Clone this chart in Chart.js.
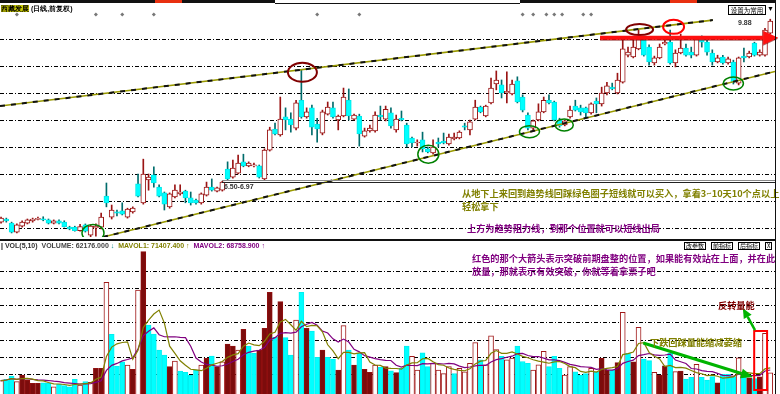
<!DOCTYPE html>
<html><head><meta charset="utf-8">
<script src="https://cdn.jsdelivr.net/npm/chart.js@4.4.1/dist/chart.umd.min.js"></script>
<style>
html,body{margin:0;padding:0;background:#fff;}
#wrap{position:relative;width:780px;height:394px;overflow:hidden;background:#fff;}
.cv{position:absolute;left:0;}
.t{position:absolute;white-space:nowrap;font-family:"Noto Sans CJK SC",sans-serif;font-weight:bold;font-size:9.2px;line-height:1;}
.s{position:absolute;white-space:nowrap;font-family:"Liberation Sans",Arial,sans-serif;font-weight:bold;font-size:7px;line-height:1;}
.btn{position:absolute;top:242px;height:6px;border:1px solid #000;background:#fff;font-family:"Noto Sans CJK SC",sans-serif;font-size:6px;line-height:6px;padding:0 1px;white-space:nowrap;}
</style></head><body>
<div id="wrap">
  <canvas id="pc" class="cv" width="780" height="237" style="top:0"></canvas>
  <canvas id="vc" class="cv" width="780" height="144" style="top:250px"></canvas>

  <!-- top strip -->
  <div style="position:absolute;left:0;top:0;width:275px;height:3px;background:#111"></div>
  <div style="position:absolute;left:155px;top:0;width:27px;height:3px;background:#e83010"></div>
  <div style="position:absolute;left:275px;top:3px;width:245px;height:1px;background:#111"></div>
  <div style="position:absolute;left:520px;top:0;width:256px;height:3px;background:#111"></div>
  <div style="position:absolute;left:670px;top:0;width:27px;height:3px;background:#e83010"></div>
  <div class="s" style="left:1px;top:5px;color:#000"><span style="background:#c8c800">西藏发展</span> (日线,前复权)</div>
  <div style="position:absolute;left:728px;top:5px;width:36px;height:8px;border:1px solid #000;background:#fff;font-family:'Noto Sans CJK SC';font-size:6.5px;line-height:8px;text-align:center;white-space:nowrap">设置为常用</div>
  <div class="s" style="left:767px;top:5px;color:#000">▼</div>

  <!-- price labels -->
  <div class="s" style="left:224px;top:183px;color:#333">6.50-6.97</div>
  <div class="s" style="left:738px;top:19px;color:#333">9.88</div>

  <!-- text box annotations -->
  <div class="t" style="left:462px;top:188.5px;color:#808000">从地下上来回到趋势线回踩绿色圈子短线就可以买入，拿着3~10天10个点以上</div>
  <div class="t" style="left:462px;top:202px;color:#808000">轻松拿下</div>
  <div class="t" style="left:467px;top:223.5px;color:#800080">上方为趋势阻力线，到那个位置就可以短线出局</div>

  <!-- separator + volume header -->
  <div style="position:absolute;left:0;top:239px;width:776px;height:2px;background:#111"></div>
  <div class="s" style="left:1px;top:242px;color:#000">| <span style="color:#333">VOL(5,10)</span>&nbsp; <span style="color:#444">VOLUME: 62176.000</span> <span style="color:#008080">↓</span> &nbsp;<span style="color:#808000">MAVOL1: 71407.400</span> <span style="color:#808000">↑</span> &nbsp;<span style="color:#800080">MAVOL2: 68758.900</span> <span style="color:#800080">↑</span></div>
  <div class="btn" style="left:684px">改参数</div>
  <div class="btn" style="left:711px">前指标</div>
  <div class="btn" style="left:738px">后指标</div>
  <div class="btn" style="left:765px">X</div>

  <!-- volume annotations -->
  <div class="t" style="left:472px;top:253.5px;color:#800080">红色的那个大箭头表示突破前期盘整的位置，如果能有效站在上面，并在此</div>
  <div class="t" style="left:472px;top:267px;color:#800080">放量，那就表示有效突破，你就等着拿票子吧</div>
  <div class="t" style="left:650px;top:338px;color:#808000">下跌回踩量能缩减萎缩</div>
  <div class="t" style="left:718px;top:300.5px;color:#800000">反转量能</div>

  <!-- right border -->
  <div style="position:absolute;left:775px;top:3px;width:1px;height:391px;background:#111"></div>
</div>
<script>
// ---------- price data (daily candles) ----------
const opens = [5.33,5.40,5.31,5.11,5.24,5.31,5.36,5.39,5.40,5.38,
5.31,5.36,5.33,5.22,5.22,5.14,5.27,5.04,5.20,5.22,
5.91,5.44,5.56,5.58,5.44,5.56,6.18,5.76,6.27,6.38,
6.11,5.98,5.67,5.89,5.96,6.02,5.87,5.82,5.76,5.93,
6.11,6.02,6.04,6.51,6.33,6.42,6.67,6.58,6.58,6.58,
6.29,6.93,7.40,7.27,7.67,7.62,7.42,8.04,7.67,7.87,
7.51,7.31,7.73,7.87,7.60,7.69,8.04,7.62,7.69,7.24,
7.36,7.36,7.71,7.62,7.76,7.38,7.64,7.49,7.20,7.09,
7.16,6.96,6.87,7.11,7.13,7.07,7.18,7.20,7.47,7.38,
7.62,7.89,7.69,7.98,8.40,8.38,8.20,8.18,8.47,8.11,
7.71,7.42,7.60,7.78,8.04,8.00,7.60,7.49,7.67,7.91,
7.87,7.87,7.76,8.02,7.96,8.20,8.33,8.20,8.44,9.04,
9.00,9.18,9.38,9.22,8.87,8.98,9.29,9.33,8.87,9.09,
9.20,9.11,9.04,9.42,9.33,9.09,8.89,9.00,8.87,8.89,
8.42,9.02,9.00,9.31,9.04,9.04,9.53];
const highs = [5.44,5.42,5.33,5.29,5.36,5.40,5.42,5.44,5.45,5.40,
5.38,5.38,5.36,5.24,5.24,5.28,5.29,5.27,5.29,5.53,
6.20,5.71,5.60,5.76,5.64,5.67,6.40,6.73,6.40,6.56,
6.16,6.00,5.98,6.16,6.16,6.04,6.00,5.84,5.98,6.22,
6.29,6.11,6.24,6.67,6.71,6.82,6.84,6.67,6.64,6.60,
6.96,7.44,7.53,8.11,7.87,7.76,8.04,8.71,7.87,7.93,
7.64,7.82,8.00,8.00,7.71,8.31,8.29,7.73,7.73,7.42,
7.49,7.78,7.91,7.91,7.87,7.71,7.80,7.53,7.22,7.16,
7.33,7.00,7.16,7.20,7.31,7.29,7.31,7.36,7.53,7.60,
8.04,7.91,7.93,8.53,8.69,8.49,8.67,8.49,8.56,8.16,
7.76,7.60,7.96,8.11,8.16,8.02,7.64,7.60,7.91,8.04,
7.93,7.89,7.98,8.09,8.33,8.44,8.42,8.64,9.44,9.22,
9.44,9.60,9.42,9.27,9.02,9.29,9.42,9.60,9.16,9.51,
9.29,9.22,9.44,9.47,9.38,9.16,9.04,9.04,9.00,8.93,
9.00,9.20,9.13,9.33,9.16,9.64,9.84];
const lows = [5.31,5.33,5.09,5.09,5.22,5.29,5.33,5.38,5.36,5.29,
5.29,5.29,5.22,5.16,5.13,5.13,5.11,5.00,5.02,5.18,
5.67,5.40,5.47,5.49,5.42,5.53,5.89,5.73,6.04,6.11,
5.89,5.60,5.64,5.87,5.93,5.76,5.71,5.73,5.73,5.91,
6.02,6.00,6.02,6.27,6.31,6.40,6.56,6.56,6.56,6.31,
6.27,6.91,7.27,7.24,7.38,7.33,7.38,7.64,7.64,7.27,
7.11,7.27,7.71,7.64,7.38,7.67,7.60,7.60,7.02,7.22,
7.33,7.33,7.60,7.58,7.42,7.33,7.58,7.00,7.00,7.02,
6.89,6.87,6.84,7.00,7.07,7.04,7.16,7.18,7.38,7.27,
7.60,7.76,7.67,7.96,8.27,8.09,7.98,8.16,7.98,7.78,
7.38,7.38,7.58,7.76,7.96,7.58,7.44,7.47,7.64,7.80,
7.71,7.64,7.73,7.76,7.91,8.16,8.27,8.18,8.42,9.00,
8.98,9.16,9.02,8.82,8.82,8.96,9.27,8.84,8.78,9.07,
9.02,8.98,9.02,9.22,9.04,8.82,8.87,8.84,8.84,8.40,
8.38,8.89,8.98,9.02,9.02,9.02,9.51];
const closes = [5.42,5.36,5.11,5.27,5.33,5.38,5.40,5.41,5.38,5.31,
5.36,5.31,5.23,5.18,5.14,5.23,5.13,5.24,5.24,5.44,
5.76,5.60,5.53,5.51,5.62,5.64,5.91,6.40,6.33,6.20,
5.91,5.73,5.96,6.04,6.00,5.87,5.76,5.76,5.96,6.11,
6.04,6.09,6.22,6.29,6.53,6.64,6.58,6.64,6.60,6.33,
6.93,7.38,7.29,7.62,7.60,7.49,7.98,7.67,7.78,7.44,
7.40,7.78,7.89,7.67,7.69,8.11,7.69,7.71,7.29,7.36,
7.42,7.71,7.67,7.84,7.47,7.62,7.60,7.07,7.09,7.11,
6.96,6.89,7.00,7.07,7.09,7.22,7.22,7.33,7.44,7.56,
7.89,7.78,7.91,8.31,8.49,8.20,8.24,8.40,8.00,7.82,
7.42,7.58,7.78,8.04,7.98,7.60,7.47,7.58,7.82,7.82,
7.78,7.76,7.96,7.96,8.20,8.36,8.29,8.49,9.18,9.11,
9.22,9.40,9.04,8.89,8.98,9.22,9.33,8.87,9.09,9.20,
9.04,9.04,9.40,9.33,9.11,8.89,8.98,8.87,8.96,8.44,
8.98,8.98,9.09,9.04,9.11,9.60,9.80];

// ---------- volume data ----------
const volumes = [38900,43000,52600,36000,55600,40900,31300,31300,33000,31300,
21300,29200,24300,21300,43000,26300,36000,34200,75100,75100,
326600,174600,81900,94400,84800,72200,304100,416100,201800,175400,
128700,114000,79800,96500,67300,63500,54700,70200,84800,104400,
111100,79800,94400,146200,140400,128700,189200,140400,119000,128700,
192100,297400,165800,269900,164600,114000,216400,297400,192100,184200,
107300,128700,107300,102300,70200,199700,128700,84800,119000,72200,
63500,84800,78100,79800,68100,62300,75100,
140000,110000,70000,120000,80000,90000,70000,60000,80000,60000,
75000,65000,90000,150000,100000,85000,170000,130000,110000,100000,
105000,140000,95000,90000,70000,85000,125000,80000,110000,75000,
55000,80000,65000,55000,60000,75000,65000,
104400,70200,70200,91500,238900,119000,94400,195000,102300,97400,
63500,55600,82700,119000,65200,67300,43900,48800,86800,48800,
40900,50600,33000,57600,57600,50600,106100,48800,47000,45000,
50000,177500,62176];
// h = up (hollow red), d = up (dark filled), c = down (cyan)
const volKind = ("hcchddddcc"+"hcccchchdd"+"hccchdhdcc"+"ccdhcccchd"+"cdhddhdccd"+
 "ddcdcchcdc"+"cdccdhcdcd"+"dhcdcdc"+
 "chhcchhhhc"+"hhhhchhhch"+"hccchhhccc"+"hhccchc"+
 "ddcdhcdhcc"+"hddchdcchc"+"ccdccchcdc"+"dhh").split("");

// grid levels
const priceGrid = [5.2,5.8,6.4,7.0,7.6,8.2,8.8,9.4];
const volGrid = [57600,107600,157600,207600,257600,307600,357600];

// trend lines (index, price)
const upperTrend = [{x:-0.2,y:7.91},{x:135.1,y:9.82}];
const lowerTrend = [{x:19.35,y:5.00},{x:146.9,y:8.68}];

// annotations (index, price)
const ellipses = [
 {i:57.2,p:8.66,rx:14.5,ry:9.5,c:'#800000',w:2},
 {i:121.2,p:9.61,rx:13.5,ry:5.5,c:'#800000',w:2},
 {i:127.65,p:9.67,rx:10.5,ry:7,c:'#ff0000',w:2},
 {i:17.45,p:5.09,rx:11,ry:8.5,c:'#008000',w:1.5},
 {i:81.1,p:6.84,rx:10.5,ry:9,c:'#008000',w:1.5},
 {i:100.3,p:7.34,rx:10,ry:6,c:'#008000',w:1.5},
 {i:106.9,p:7.49,rx:9,ry:6,c:'#008000',w:1.5},
 {i:139.0,p:8.41,rx:10,ry:6.5,c:'#008000',w:1.5}
];
const breakLine = {from:113.7,to:147.5,p:9.43};
const textBoxTop = {from:41.9,p:6.245};
const markerIdx = [3,18,23,29,60,68,99,101,103.5,105,106.5,110.5,112];

const X_MIN = -0.2, X_MAX = 146.9;
const isUp = closes.map((c,i)=>c>=opens[i]);

function arrow(ctx,x1,y1,x2,y2,color,w,hl,hw){
  const a=Math.atan2(y2-y1,x2-x1);
  const bx=x2-hl*Math.cos(a), by=y2-hl*Math.sin(a);
  ctx.strokeStyle=color;ctx.lineWidth=w;ctx.lineCap='butt';
  ctx.beginPath();ctx.moveTo(x1,y1);ctx.lineTo(bx,by);ctx.stroke();
  ctx.fillStyle=color;ctx.beginPath();
  ctx.moveTo(x2,y2);
  ctx.lineTo(bx+hw*Math.sin(a),by-hw*Math.cos(a));
  ctx.lineTo(bx-hw*Math.sin(a),by+hw*Math.cos(a));
  ctx.closePath();ctx.fill();
}

const priceAnno = {
  id:'priceAnno',
  afterDatasetsDraw(chart){
    const {ctx,scales:{x,y}}=chart;
    ctx.save();
    const bx=Math.round(x.getPixelForValue(textBoxTop.from)), by=Math.round(y.getPixelForValue(textBoxTop.p));
    ctx.fillStyle='#8a8a8a';ctx.fillRect(bx,by-1,775-bx,1);
    ctx.fillStyle='#222';ctx.fillRect(bx,by+1,775-bx,1);
    ellipses.forEach(e=>{
      ctx.beginPath();
      ctx.ellipse(x.getPixelForValue(e.i),y.getPixelForValue(e.p),e.rx,e.ry,0,0,Math.PI*2);
      ctx.strokeStyle=e.c;ctx.lineWidth=e.w;ctx.stroke();
    });
    const ay=y.getPixelForValue(breakLine.p);
    ctx.shadowColor='rgba(120,0,0,0.6)';ctx.shadowOffsetY=1;
    arrow(ctx,x.getPixelForValue(breakLine.from),ay,x.getPixelForValue(breakLine.to),ay,'#ff1010',4,15,7);
    ctx.shadowColor='transparent';
    ctx.fillStyle='#777';
    markerIdx.forEach(m=>{
      const px=x.getPixelForValue(m);
      ctx.beginPath();ctx.moveTo(px,12.5);ctx.lineTo(px+2,14.5);ctx.lineTo(px,16.5);ctx.lineTo(px-2,14.5);ctx.closePath();ctx.fill();
    });
    ctx.restore();
  }
};

const volAnno = {
  id:'volAnno',
  afterDatasetsDraw(chart){
    const {ctx,scales:{x,y}}=chart;
    ctx.save();
    const x1=x.getPixelForValue(142.95), x2=x.getPixelForValue(145.4);
    const y1=y.getPixelForValue(184200), y2=y.getPixelForValue(11700);
    ctx.strokeStyle='#ff0000';ctx.lineWidth=2;ctx.strokeRect(x1,y1,x2-x1,y2-y1);
    arrow(ctx,x.getPixelForValue(121.9),y.getPixelForValue(149000),x.getPixelForValue(142.7),y.getPixelForValue(49700),'#00b400',3,12,5);
    arrow(ctx,x.getPixelForValue(143.1),y.getPixelForValue(187000),x.getPixelForValue(140.8),y.getPixelForValue(251000),'#00b400',2.5,10,4.5);
    ctx.restore();
  }
};

const gridDash=[4,2,1,2];
function yGrid(vals){
  return {
    position:'right',
    ticks:{display:false},
    grid:{drawTicks:false,color:'#000',lineWidth:1},
    border:{display:false,dash:gridDash},
    afterBuildTicks:s=>{s.ticks=vals.map(v=>({value:v}));},
    afterFit:s=>{s.width=0;}
  };
}
const xScale = {type:'linear',min:X_MIN,max:X_MAX,offset:false,display:false};

new Chart(document.getElementById('pc'),{
  data:{datasets:[
    {type:'line',data:upperTrend,borderColor:'#111',borderWidth:2,borderDash:[5,6],pointRadius:0,order:0},
    {type:'line',data:lowerTrend,borderColor:'#111',borderWidth:2,borderDash:[5,6],pointRadius:0,order:0},
    {type:'line',data:upperTrend,borderColor:'#9a9a00',borderWidth:1.6,pointRadius:0,order:1},
    {type:'line',data:lowerTrend,borderColor:'#9a9a00',borderWidth:1.6,pointRadius:0,order:1},
    {type:'bar',data:opens.map((o,i)=>({x:i,y:[o,closes[i]]})),
      backgroundColor:isUp.map(u=>u?'#ffffff':'#00ffff'),
      borderColor:isUp.map(u=>u?'#9a1414':'#00e8e8'),
      borderWidth:1,borderSkipped:false,barThickness:5,minBarLength:1,grouped:false,order:2},
    {type:'bar',data:lows.map((l,i)=>({x:i,y:[l,highs[i]]})),
      backgroundColor:isUp.map(u=>u?'#9a1414':'#006c6c'),
      barThickness:1,grouped:false,order:3}
  ]},
  options:{
    responsive:false,animation:false,
    layout:{padding:{left:0,right:5,top:0,bottom:0}},
    plugins:{legend:{display:false},tooltip:{enabled:false}},
    scales:{ x:xScale, y:Object.assign({min:5.0,max:10.267},yGrid(priceGrid)) }
  },
  plugins:[priceAnno]
});

function movAvg(arr,n){
  return arr.map((v,i)=>{const s=Math.max(0,i-n+1);let t=0;for(let k=s;k<=i;k++)t+=arr[k];return t/(i-s+1);});
}
const ma5=movAvg(volumes,5), ma10=movAvg(volumes,10);
const volFill={h:'#ffffff',d:'#7c0c0c',c:'#00ffff'};
const volLine={h:'#a01818',d:'#901010',c:'#00f0f0'};

new Chart(document.getElementById('vc'),{
  data:{datasets:[
    {type:'line',data:ma5.map((v,i)=>({x:i,y:v})),borderColor:'#808000',borderWidth:1.2,pointRadius:0,tension:0,order:0},
    {type:'line',data:ma10.map((v,i)=>({x:i,y:v})),borderColor:'#800080',borderWidth:1.2,pointRadius:0,tension:0,order:0},
    {type:'bar',data:volumes.map((v,i)=>({x:i,y:v})),
      backgroundColor:volKind.map(k=>volFill[k]),
      borderColor:volKind.map(k=>volLine[k]),
      borderWidth:1,borderSkipped:'start',barThickness:5,grouped:false,order:2}
  ]},
  options:{
    responsive:false,animation:false,
    layout:{padding:{left:0,right:5,top:0,bottom:0}},
    plugins:{legend:{display:false},tooltip:{enabled:false}},
    scales:{ x:Object.assign({},xScale), y:Object.assign({min:0,max:421000},yGrid(volGrid)) }
  },
  plugins:[volAnno]
});
</script>
</body></html>
